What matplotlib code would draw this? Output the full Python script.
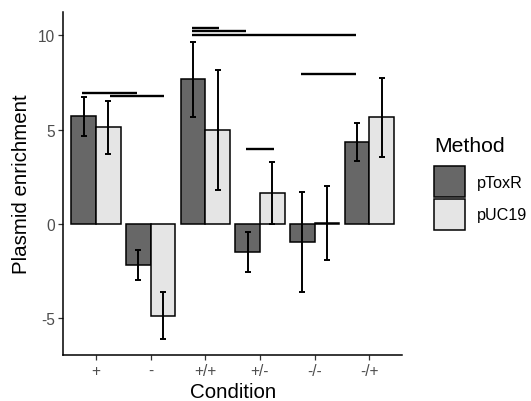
import matplotlib
matplotlib.use("Agg")
import matplotlib.pyplot as plt
import numpy as np
from matplotlib.patches import Patch

plt.rcParams['font.family'] = ['Liberation Sans', 'DejaVu Sans']

conditions = ['+', '-', '+/+', '+/-', '-/-', '-/+']
methods = ['pToxR', 'pUC19']
ptoxr = [5.75, -2.17, 7.68, -1.50, -0.97, 4.33]
ptoxr_lo = [4.68, -2.95, 5.69, -2.53, -3.62, 3.33]
ptoxr_hi = [6.75, -1.38, 9.64, -0.42, 1.68, 5.34]
puc19 = [5.15, -4.86, 4.99, 1.64, 0.05, 5.66]
puc19_lo = [3.70, -6.12, 1.82, 0.02, -1.91, 3.54]
puc19_hi = [6.54, -3.59, 8.17, 3.27, 2.00, 7.75]

# significance bars (start, end in category units, height)
sig_x0 = [0.75, 1.25, 2.75, 2.75, 2.75, 4.75, 3.75]
sig_x1 = [1.75, 2.25, 3.25, 3.75, 5.75, 5.75, 4.25]
sig_y = [6.96, 6.81, 10.40, 10.22, 10.03, 7.97, 4.00]

colors = ['#676767', '#E5E5E5']

W, H = 531, 402
fig = plt.figure(figsize=(W / 100, H / 100), dpi=100)
left, right, top, bottom = 63.3, 402.0, 13.3, 356.0
ax = fig.add_axes([left / W, 1 - bottom / H, (right - left) / W, (bottom - top) / H])

x = np.arange(1, len(conditions) + 1)
bw = 0.45
series = [(ptoxr, ptoxr_lo, ptoxr_hi), (puc19, puc19_lo, puc19_hi)]
offsets = [-bw / 2, bw / 2]
for (vals, lo, hi), off, col in zip(series, offsets, colors):
    vals = np.array(vals)
    ax.bar(x + off, vals, width=bw, color=col, edgecolor='black', linewidth=1.1, zorder=2)
for (vals, lo, hi), off in zip(series, offsets):
    vals = np.array(vals)
    yerr = np.vstack([vals - np.array(lo), np.array(hi) - vals])
    ax.errorbar(x + off, vals, yerr=yerr, fmt='none', ecolor='black',
                elinewidth=1.4, capsize=2.1, capthick=1.4, zorder=3)

for x0, x1, yy in zip(sig_x0, sig_x1, sig_y):
    ax.plot([x0, x1], [yy, yy], color='black', linewidth=1.7, solid_capstyle='butt', zorder=4)

ax.set_xlim(0.4, 6.6)
ax.set_ylim(-6.95, 11.23)
ax.set_xticks(x)
ax.set_xticklabels(conditions)
ax.set_yticks([-5, 0, 5, 10])
ax.set_yticklabels(['-5', '0', '5', '10'])
for s in ['top', 'right']:
    ax.spines[s].set_visible(False)
for s in ['left', 'bottom']:
    ax.spines[s].set_linewidth(1.1)
    ax.spines[s].set_color('black')
ax.tick_params(axis='both', length=3.3, width=0.9, color='#333333',
               labelcolor='#4D4D4D', labelsize=11.2, pad=2.5)
ax.set_xlabel('Condition', fontsize=14.8, labelpad=3)
ax.set_ylabel('Plasmid enrichment', fontsize=14.8, labelpad=5)

fig.text(434 / W, 1 - 152 / H, 'Method', fontsize=15.2, ha='left', va='baseline')
handles = [Patch(facecolor=c, edgecolor='black', linewidth=1.1) for c in colors]
leg = fig.legend(handles, methods, loc='upper left',
                 bbox_to_anchor=(434.3 / W, 1 - 167.3 / H), frameon=False,
                 fontsize=11.6, handlelength=1.924,
                 handleheight=2.583, labelspacing=0.105, handletextpad=0.70,
                 borderpad=0, borderaxespad=0)

fig.savefig('out.png', dpi=100)
